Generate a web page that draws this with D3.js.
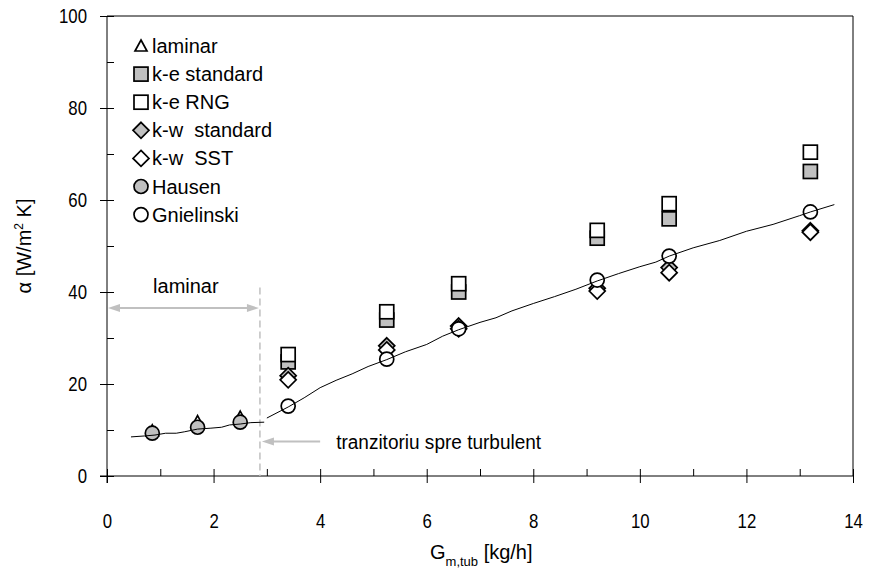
<!DOCTYPE html>
<html>
<head>
<meta charset="utf-8">
<script src="https://cdn.jsdelivr.net/npm/d3@7"></script>
<style>
  html, body { margin: 0; padding: 0; background: #fff; }
  svg { display: block; font-family: "Liberation Sans", Arial, sans-serif; }
</style>
</head>
<body>
<svg id="chart" width="872" height="580"></svg>
<script>
// ---- data ----
const xLaminar = [0.85, 1.7, 2.5];
const laminarVals = [9.6, 11.6, 12.6];
const hausenVals = [9.3, 10.6, 11.7];

const xTurb = [3.4, 5.25, 6.6, 9.2, 10.55, 13.2];
const keStdVals = [24.8, 33.9, 40.0, 51.7, 55.9, 66.2];
const keRngVals = [26.4, 35.7, 41.8, 53.4, 59.2, 70.4];
const kwStdVals = [21.8, 28.3, 32.6, 40.8, 45.3, 53.3];
const kwSstVals = [20.9, 27.4, 32.0, 40.2, 44.2, 53.0];
const gnielinskiVals = [15.2, 25.4, 32.0, 42.6, 47.8, 57.4];

// correlation curve (laminar part and turbulent part)
const curveLamX = [0.45, 0.7, 0.9, 1.1, 1.3, 1.45, 1.7, 1.95, 2.15, 2.3, 2.5, 2.7, 2.95];
const curveLamY = [8.5, 8.7, 8.9, 9.3, 9.3, 9.6, 10.2, 10.4, 10.6, 11.1, 11.3, 11.6, 11.7];
const curveTurbX = [3.0, 3.4, 3.7, 4.0, 4.3, 4.6, 4.9, 5.25, 5.6, 6.0, 6.3, 6.6, 7.0, 7.3, 7.6, 8.0, 8.4, 8.8, 9.2, 9.6, 10.0, 10.3, 10.55, 11.0, 11.5, 12.0, 12.5, 13.0, 13.2, 13.65];
const curveTurbY = [12.6, 15.0, 17.0, 19.2, 20.8, 22.2, 23.8, 25.3, 27.0, 28.6, 30.4, 31.8, 33.4, 34.4, 35.9, 37.5, 39.0, 40.6, 42.4, 44.0, 45.5, 46.5, 47.8, 49.6, 51.2, 53.2, 54.7, 56.6, 57.4, 59.0];

const xTickLabels = [0, 2, 4, 6, 8, 10, 12, 14];
const xMinorTicks = [1, 3, 5, 7, 9, 11, 13];
const yTickLabels = [0, 20, 40, 60, 80, 100];
const yMinorTicks = [10, 30, 50, 70, 90];

const legendLabels = ["laminar", "k-e standard", "k-e RNG", "k-w\u00A0 standard", "k-w\u00A0 SST", "Hausen", "Gnielinski"];

// ---- layout ----
const svg = d3.select("#chart");
const x = d3.scaleLinear().domain([0, 14]).range([107, 853]);
const y = d3.scaleLinear().domain([0, 100]).range([476, 16]);
const FS = 20;
const GRAY = "#c0c0c0";
const FONT = "Liberation Sans, Arial, sans-serif";

// frame (top & right)
svg.append("path")
  .attr("d", `M${x(0)},${y(100)}H${x(14)}V${y(0)}`)
  .attr("fill", "none").attr("stroke", "#000").attr("stroke-width", 1);

// x axis
const gx = svg.append("g").attr("transform", `translate(0,${y(0)})`);
gx.call(d3.axisBottom(x).tickValues(xTickLabels).tickSize(7).tickPadding(31).tickFormat(d3.format("d")));
gx.call(g => g.select(".domain").remove());
svg.append("g").attr("transform", `translate(0,${y(0)})`)
  .call(d3.axisTop(x).tickValues(xTickLabels.concat(xMinorTicks)).tickSize(7).tickFormat(""))
  .call(g => g.select(".domain").remove());
svg.append("line").attr("x1", x(0) - 7).attr("x2", x(14)).attr("y1", y(0)).attr("y2", y(0)).attr("stroke", "#000");

// y axis
const gy = svg.append("g").attr("transform", `translate(${x(0)},0)`);
gy.call(d3.axisLeft(y).tickValues(yTickLabels).tickSize(7).tickPadding(13).tickFormat(d3.format("d")));
gy.call(g => g.select(".domain").remove());
svg.append("g").attr("transform", `translate(${x(0)},0)`)
  .call(d3.axisRight(y).tickValues(yTickLabels.concat(yMinorTicks)).tickSize(7).tickFormat(""))
  .call(g => g.select(".domain").remove());
svg.append("line").attr("x1", x(0)).attr("x2", x(0)).attr("y1", y(100)).attr("y2", y(0) + 7).attr("stroke", "#000");

svg.selectAll(".tick line").attr("stroke", "#000");
// narrow-looking tick labels: scale horizontally around their anchor
[gx, gy].forEach(g => g.selectAll(".tick text").each(function () {
  const t = d3.select(this);
  const tx = +t.attr("x") || 0, ty = +t.attr("y") || 0;
  t.attr("x", 0).attr("y", 0)
    .attr("transform", `translate(${tx},${ty}) scale(0.84,1)`)
    .attr("font-size", 20).attr("font-family", FONT).attr("fill", "#000");
}));

// axis titles
const yl = svg.append("text")
  .attr("transform", `translate(31,246) rotate(-90)`)
  .attr("text-anchor", "middle").attr("font-size", FS);
yl.append("tspan").text("\u03B1 [W/m");
yl.append("tspan").attr("font-size", 12).attr("dy", -8).text("2");
yl.append("tspan").attr("dy", 8).text(" K]");

const xl = svg.append("text").attr("x", 430).attr("y", 559).attr("font-size", FS);
xl.append("tspan").text("G");
xl.append("tspan").attr("font-size", 13).attr("dy", 7).text("m,tub");
xl.append("tspan").attr("dy", -7).text(" [kg/h]");

// annotations: laminar region
const dashX = x(2.87);
svg.append("line").attr("x1", dashX).attr("x2", dashX).attr("y1", y(41)).attr("y2", y(0))
  .attr("stroke", GRAY).attr("stroke-width", 1.5).attr("stroke-dasharray", "7,4");

function arrowHead(px, py, dir) {
  const L = 12, W = 4;
  svg.append("path")
    .attr("d", `M${px},${py}L${px - dir * L},${py - W}L${px - dir * L},${py + W}Z`)
    .attr("fill", GRAY);
}
const ay = y(36.5);
svg.append("line").attr("x1", x(0) + 6).attr("x2", dashX - 6).attr("y1", ay).attr("y2", ay)
  .attr("stroke", GRAY).attr("stroke-width", 2);
arrowHead(x(0) + 1, ay, -1);
arrowHead(dashX - 1, ay, 1);
svg.append("text").attr("x", x(1.48)).attr("y", y(39.8)).attr("text-anchor", "middle")
  .attr("font-size", FS).text("laminar");

const by = y(7.5);
svg.append("line").attr("x1", dashX + 8).attr("x2", x(4.0)).attr("y1", by).attr("y2", by)
  .attr("stroke", GRAY).attr("stroke-width", 2);
arrowHead(dashX + 2, by, -1);
svg.append("text").attr("x", x(4.3)).attr("y", by + 7).attr("font-size", FS)
  .attr("textLength", 205).attr("lengthAdjust", "spacingAndGlyphs")
  .text("tranzitoriu spre turbulent");

// ---- markers ----
const SW = 1.7;
function triangle(g, cx, cy) {
  g.append("path").attr("d", `M${cx},${cy - 7}L${cx + 6},${cy + 4}L${cx - 6},${cy + 4}Z`)
    .attr("fill", "#fff").attr("stroke", "#000").attr("stroke-width", SW);
}
function square(g, cx, cy, fill) {
  g.append("rect").attr("x", cx - 7).attr("y", cy - 7).attr("width", 14).attr("height", 14)
    .attr("fill", fill).attr("stroke", "#000").attr("stroke-width", SW);
}
function diamond(g, cx, cy, fill) {
  g.append("path").attr("d", `M${cx},${cy - 8}L${cx + 8},${cy}L${cx},${cy + 8}L${cx - 8},${cy}Z`)
    .attr("fill", fill).attr("stroke", "#000").attr("stroke-width", SW);
}
function circle(g, cx, cy, fill) {
  g.append("circle").attr("cx", cx).attr("cy", cy).attr("r", 7)
    .attr("fill", fill).attr("stroke", "#000").attr("stroke-width", SW);
}
const FILLG = "#c0c0c0";
const gm = svg.append("g");
xLaminar.forEach((d, i) => triangle(gm, x(d), y(laminarVals[i])));
xTurb.forEach((d, i) => square(gm, x(d), y(keStdVals[i]), FILLG));
xTurb.forEach((d, i) => square(gm, x(d), y(keRngVals[i]), "#fff"));
xTurb.forEach((d, i) => diamond(gm, x(d), y(kwStdVals[i]), FILLG));
xTurb.forEach((d, i) => diamond(gm, x(d), y(kwSstVals[i]), "#fff"));
xLaminar.forEach((d, i) => circle(gm, x(d), y(hausenVals[i]), FILLG));
xTurb.forEach((d, i) => circle(gm, x(d), y(gnielinskiVals[i]), "#fff"));

// curves
const line = d3.line().x(d => x(d[0])).y(d => y(d[1])).curve(d3.curveLinear);
svg.append("path").datum(curveLamX.map((v, i) => [v, curveLamY[i]]))
  .attr("d", line).attr("fill", "none").attr("stroke", "#000").attr("stroke-width", 1);
svg.append("path").datum(curveTurbX.map((v, i) => [v, curveTurbY[i]]))
  .attr("d", line).attr("fill", "none").attr("stroke", "#000").attr("stroke-width", 1);

// legend
const lg = svg.append("g");
const lx = 141, ly0 = 46, ldy = 28.1;
legendLabels.forEach((t, i) => {
  const cy = ly0 + i * ldy;
  if (i === 0) triangle(lg, lx, cy + 1);
  if (i === 1) square(lg, lx, cy, FILLG);
  if (i === 2) square(lg, lx, cy, "#fff");
  if (i === 3) diamond(lg, lx, cy, FILLG);
  if (i === 4) diamond(lg, lx, cy, "#fff");
  if (i === 5) circle(lg, lx, cy, FILLG);
  if (i === 6) circle(lg, lx, cy, "#fff");
  lg.append("text").attr("x", lx + 11).attr("y", cy + 7).attr("font-size", FS).text(t);
});
</script>
</body>
</html>
